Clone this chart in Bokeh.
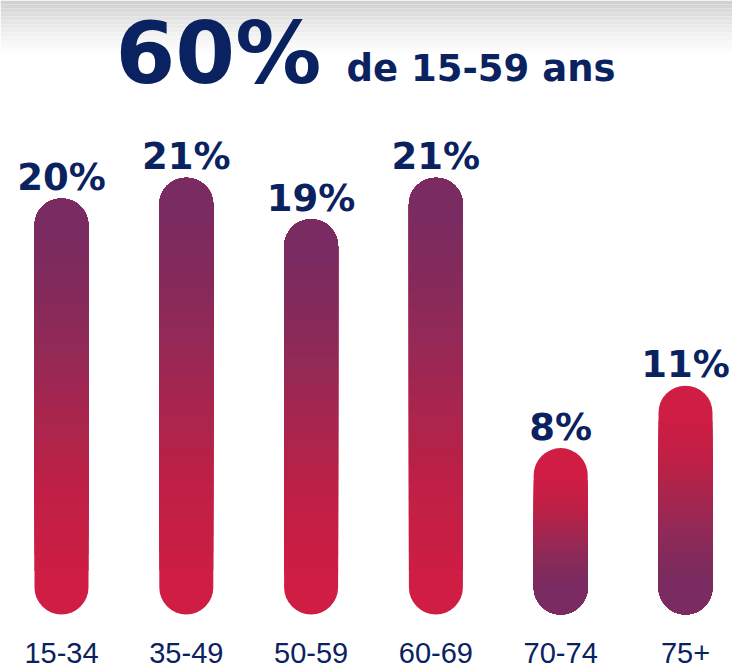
from bokeh.plotting import figure
from bokeh.models import ColumnDataSource, Range1d, Label
from bokeh.core.properties import value
from bokeh.embed import file_html
from bokeh.resources import INLINE

# ---------------- data ----------------
categories = ["15-34", "35-49", "50-59", "60-69", "70-74", "75+"]
shares = [20, 21, 19, 21, 8, 11]
share_labels = ["20%", "21%", "19%", "21%", "8%", "11%"]
reversed_gradient = [False, False, False, False, True, True]
headline_value = "60%"
headline_text = "de 15-59 ans"

# ---------------- layout / style ----------------
W, H = 732, 669
PX_PER_UNIT = 20.8
BASE_PX_FROM_BOTTOM = 55
X_STEP = 124.8
FIRST_CENTER_PX = 61
BAR_PX = 54
R_PX = BAR_PX // 2
NAVY = "#0b2260"

y_start = -BASE_PX_FROM_BOTTOM / PX_PER_UNIT
y_end = y_start + H / PX_PER_UNIT
x_start = -FIRST_CENTER_PX / X_STEP
x_end = x_start + W / X_STEP
bar_w = BAR_PX / X_STEP
r_data = R_PX / PX_PER_UNIT

p = figure(width=W, height=H, x_range=Range1d(x_start, x_end),
           y_range=Range1d(y_start, y_end), output_backend="svg",
           toolbar_location=None, min_border=0)
p.axis.visible = False
p.grid.visible = False
p.outline_line_color = None
p.background_fill_color = "white"
p.border_fill_color = "white"


def hex2rgb(h):
    h = h.lstrip("#")
    return [int(h[i:i + 2], 16) for i in (0, 2, 4)]


def mix(c1, c2, t):
    a, b = hex2rgb(c1), hex2rgb(c2)
    return "#%02x%02x%02x" % tuple(int(round(a[i] + (b[i] - a[i]) * t)) for i in range(3))


def ramp(stops, t):
    n = len(stops) - 1
    i = min(int(t * n), n - 1)
    return mix(stops[i], stops[i + 1], t * n - i)


# decorative grey band at top of page
BAND_PX = 56
NB = 14
for i in range(NB):
    t0 = i * BAND_PX / NB
    t1 = (i + 1) * BAND_PX / NB
    g = ramp(["#d0d0d0", "#e4e4e4", "#f3f3f3", "#ffffff"], i / (NB - 1))
    p.quad(left=x_start, right=x_end, top=y_end - t0 / PX_PER_UNIT,
           bottom=y_end - t1 / PX_PER_UNIT, fill_color=g, line_color=None)

# gradient stops from "red end" to "purple end"
RED_TO_PURPLE = ["#cf1d44", "#c01f45", "#a5264f", "#8a2a59", "#7a2b61"]
N = 22

xs = list(range(len(categories)))
norm_idx = [i for i in xs if not reversed_gradient[i]]
rev_idx = [i for i in xs if reversed_gradient[i]]

# normal bars: red at bottom, purple on top
for k in range(N):
    col = ramp(RED_TO_PURPLE, k / (N - 1))
    bottoms, tops, xx = [], [], []
    for i in norm_idx:
        v = shares[i]
        b = 0 if k == 0 else r_data + (v - 2 * r_data) * k / N
        bottoms.append(b)
        tops.append(v)
        xx.append(i)
    src = ColumnDataSource(dict(x=xx, top=tops, bottom=bottoms))
    radius = R_PX if k == 0 else (R_PX, R_PX, 0, 0)
    p.vbar(x="x", top="top", bottom="bottom", width=bar_w, source=src,
           fill_color=col, line_color=None, border_radius=radius)

# reversed bars: red on top, purple at bottom
for k in range(N):
    col = ramp(RED_TO_PURPLE, k / (N - 1))
    bottoms, tops, xx = [], [], []
    for i in rev_idx:
        v = shares[i]
        top = v if k == 0 else v - r_data - (v - 2 * r_data) * k / N
        bottoms.append(0)
        tops.append(top)
        xx.append(i)
    src = ColumnDataSource(dict(x=xx, top=tops, bottom=bottoms))
    radius = R_PX if k == 0 else (0, 0, R_PX, R_PX)
    p.vbar(x="x", top="top", bottom="bottom", width=bar_w, source=src,
           fill_color=col, line_color=None, border_radius=radius)

# value labels
lab_src = ColumnDataSource(dict(x=xs, y=shares, text=share_labels,
                                cat=categories, base=[0] * len(xs)))
p.text(x="x", y="y", text="text", source=lab_src, y_offset=-21,
       text_align="center", text_baseline="middle",
       text_font=value("DejaVu Sans"), text_font_style="bold",
       text_font_size="37px", text_color=NAVY)

# category labels
p.text(x="x", y="base", text="cat", source=lab_src, y_offset=38,
       text_align="center", text_baseline="middle",
       text_font=value("Liberation Sans"), text_font_size="29px",
       text_color=NAVY)

# headline
p.add_layout(Label(x=115, y=H - 52, x_units="screen", y_units="screen",
                   text=headline_value, text_baseline="middle",
                   text_font="DejaVu Sans",
                   text_font_style="bold", text_font_size="86px",
                   text_color=NAVY))
p.add_layout(Label(x=346, y=H - 68, x_units="screen", y_units="screen",
                   text=headline_text, text_baseline="middle",
                   text_font="DejaVu Sans",
                   text_font_style="bold", text_font_size="37px",
                   text_color=NAVY))

open("out.html", "w").write(file_html(p, INLINE))
